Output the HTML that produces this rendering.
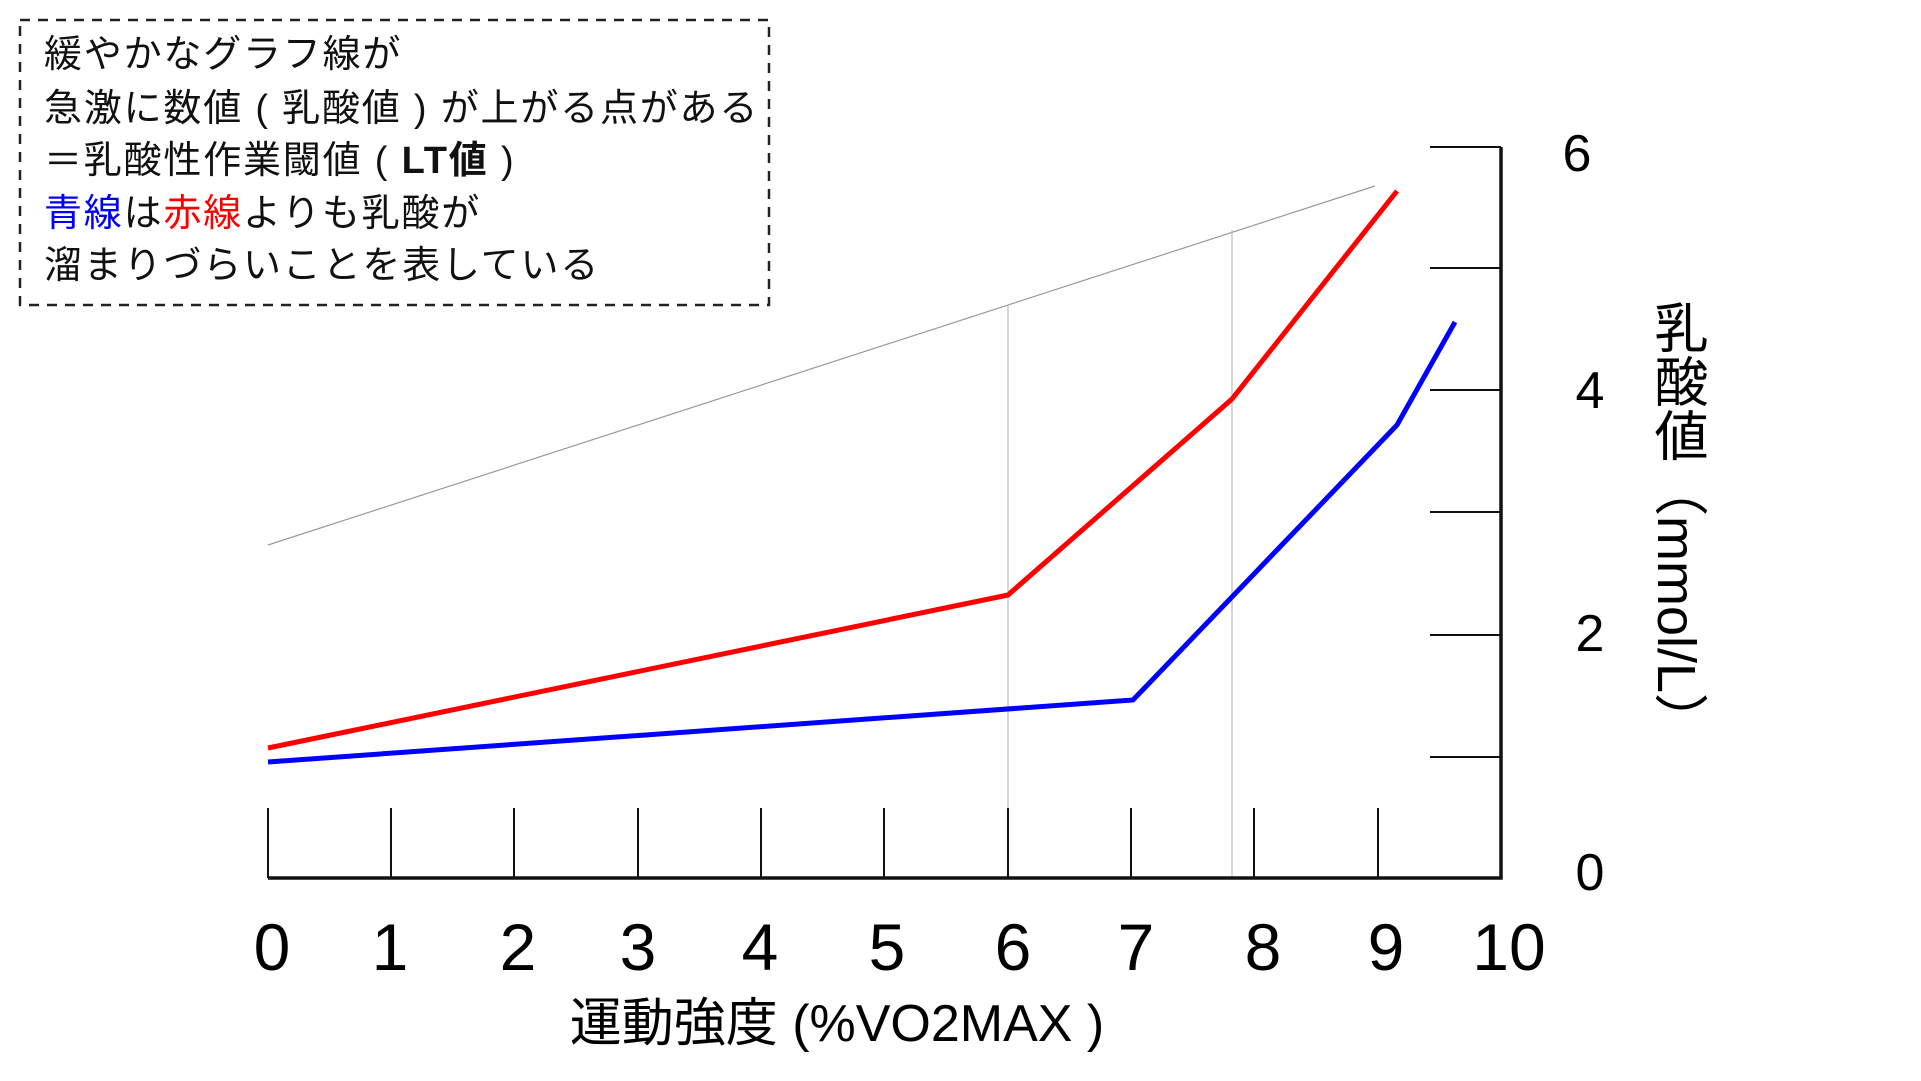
<!DOCTYPE html>
<html><head><meta charset="utf-8"><style>
html,body{margin:0;padding:0;background:#fff;}
svg{display:block;font-family:"Liberation Sans","Noto Sans CJK JP",sans-serif;}
</style></head><body>
<svg width="1921" height="1081" viewBox="0 0 1921 1081" xmlns="http://www.w3.org/2000/svg">
<rect x="20" y="20" width="749" height="285" fill="none" stroke="#222" stroke-width="2.5" stroke-dasharray="10,8"/>
<g font-size="38" fill="#111" letter-spacing="1.8">
<text x="44" y="67">緩やかなグラフ線が</text>
<text x="44" y="121">急激に数値 ( 乳酸値 ) が上がる点がある</text>
<text x="44" y="173">＝乳酸性作業閾値 ( <tspan font-weight="bold">LT値</tspan> )</text>
<text x="44" y="226"><tspan fill="#0000ff">青線</tspan>は<tspan fill="#ff0000">赤線</tspan>よりも乳酸が</text>
<text x="44" y="278">溜まりづらいことを表している</text>
</g>
<line x1="268" y1="545" x2="1375" y2="186" stroke="#999" stroke-width="1.2"/>
<line x1="1008" y1="305" x2="1008" y2="878" stroke="#bbb" stroke-width="1.2"/>
<line x1="1232" y1="230" x2="1232" y2="878" stroke="#bbb" stroke-width="1.2"/>
<g stroke="#111" stroke-width="2">
<line x1="268" y1="808" x2="268" y2="878"/><line x1="391" y1="808" x2="391" y2="878"/>
<line x1="514" y1="808" x2="514" y2="878"/><line x1="638" y1="808" x2="638" y2="878"/>
<line x1="761" y1="808" x2="761" y2="878"/><line x1="884" y1="808" x2="884" y2="878"/>
<line x1="1008" y1="808" x2="1008" y2="878"/><line x1="1131" y1="808" x2="1131" y2="878"/>
<line x1="1254" y1="808" x2="1254" y2="878"/><line x1="1378" y1="808" x2="1378" y2="878"/>
<line x1="1430" y1="147" x2="1501" y2="147"/><line x1="1430" y1="268" x2="1501" y2="268"/>
<line x1="1430" y1="390" x2="1501" y2="390"/><line x1="1430" y1="512" x2="1501" y2="512"/>
<line x1="1430" y1="635" x2="1501" y2="635"/><line x1="1430" y1="757" x2="1501" y2="757"/>
</g>
<polyline points="268,878 1501,878 1501,147" fill="none" stroke="#111" stroke-width="3.5"/>
<polyline points="268,748 1008,595 1232,399 1397,191" fill="none" stroke="#ff0000" stroke-width="5"/>
<polyline points="268,762 1133,700 1397,425 1455,322" fill="none" stroke="#0000ff" stroke-width="5"/>
<g font-size="66" fill="#000" text-anchor="middle">
<text x="272" y="970">0</text><text x="390" y="970">1</text><text x="518" y="970">2</text>
<text x="638" y="970">3</text><text x="760" y="970">4</text><text x="887" y="970">5</text>
<text x="1013" y="970">6</text><text x="1136" y="970">7</text><text x="1263" y="970">8</text>
<text x="1386" y="970">9</text><text x="1509" y="970">10</text>
</g>
<g font-size="52" fill="#000" text-anchor="middle">
<text x="1577" y="171">6</text><text x="1590" y="408">4</text>
<text x="1590" y="651">2</text><text x="1590" y="890">0</text>
</g>
<text x="837" y="1041" font-size="52" text-anchor="middle" fill="#000">運動強度 (%VO2MAX )</text>
<text x="1676" y="300" font-size="54" fill="#000" style="writing-mode:vertical-rl;text-orientation:mixed">乳酸値（mmol/L）</text>
</svg>
</body></html>
